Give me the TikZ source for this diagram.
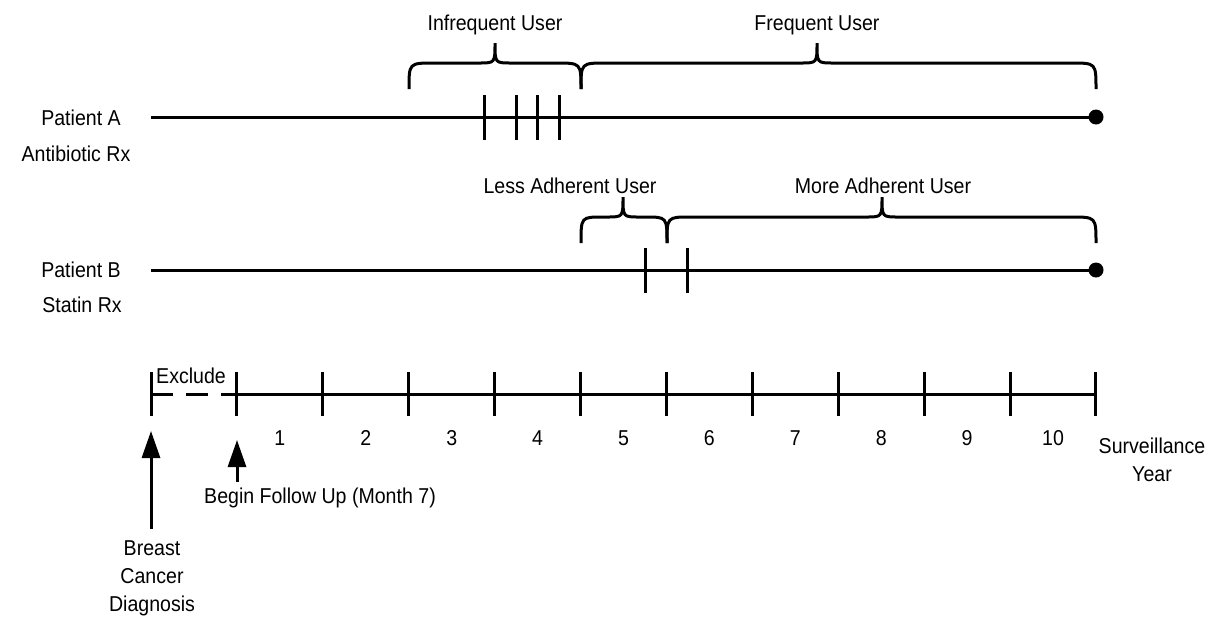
\documentclass[tikz,border=0pt]{standalone}
\usepackage{fontspec}
\setmainfont[FakeStretch=0.91]{Liberation Sans}
\usetikzlibrary{arrows.meta}
\begin{document}
\begin{tikzpicture}[x=1pt,y=-1pt,
  ln/.style={line width=3pt},
  lbl/.style={font=\fontsize{21.5}{28}\selectfont, inner sep=0pt, align=center},
  arr/.style={line width=3pt,-{Triangle[length=27pt,width=18pt]}},
  dotnode/.style={circle,fill=black,minimum size=15pt,inner sep=0pt}]
\useasboundingbox (0,0) rectangle (1223,619);
% patient labels
\node[lbl] (pa) at (81,118) {Patient A};
\node[lbl] (pax) at (76,154) {Antibiotic Rx};
\node[lbl] (pb) at (81,270) {Patient B};
\node[lbl] (pbx) at (82,305) {Statin Rx};
% patient A line
\coordinate (a0) at (151,117);
\node[dotnode] (adot) at (1096,117) {};
\draw[ln] (a0) -- (adot.center);
\foreach \x in {484,516,537,559} \draw[ln] (\x,95) -- (\x,140);
% patient B line
\coordinate (b0) at (151,270);
\node[dotnode] (bdot) at (1096,270) {};
\draw[ln] (b0) -- (bdot.center);
\foreach \x in {645,687} \draw[ln] (\x,248) -- (\x,293);
% braces A
\draw[ln] (409,89) .. controls (409,63) .. (434,63) -- (479,63) .. controls (495,63) .. (495,43)
  .. controls (495,63) .. (511,63) -- (556,63) .. controls (581,63) .. (581,89);
\draw[ln] (581,89) .. controls (581,63) .. (606,63) -- (801,63) .. controls (817,63) .. (817,43)
  .. controls (817,63) .. (833,63) -- (1071,63) .. controls (1096,63) .. (1096,89);
\node[lbl] (infr) at (495,25) {Infrequent User};
\node[lbl] (freq) at (817,25) {Frequent User};
% braces B
\draw[ln] (581,243) .. controls (581,217) .. (603,217) -- (607,217) .. controls (623,217) .. (623,197)
  .. controls (623,217) .. (639,217) -- (645,217) .. controls (667,217) .. (667,243);
\draw[ln] (667,243) .. controls (667,217) .. (690,217) -- (866,217) .. controls (882,217) .. (882,197)
  .. controls (882,217) .. (898,217) -- (1071,217) .. controls (1096,217) .. (1096,243);
\node[lbl] (less) at (570,186) {Less Adherent User};
\node[lbl] (more) at (883,186) {More Adherent User};
% axis
\coordinate (t0) at (151,394);
\coordinate (t1) at (237,394);
\coordinate (t11) at (1096,394);
\draw[ln,dash pattern=on 22pt off 13pt] (t0) -- (t1);
\draw[ln] (t1) -- (t11);
\foreach \i in {0,...,11} \draw[ln] (151+85.9*\i,372) -- (151+85.9*\i,416);
\node[lbl,anchor=west] (excl) at (156,376) {Exclude};
\foreach \i in {1,...,10} \node[lbl] (n\i) at (194+85.9*\i,438) {\i};
\node[lbl] (surv) at (1152,460) {Surveillance\\Year};
% arrows
\coordinate (bcbase) at (151,529);
\coordinate (bctip) at (151,431);
\draw[arr] (bcbase) -- (bctip);
\node[lbl] (bc) at (152,578) {Breast\\Cancer\\Diagnosis};
\coordinate (bfbase) at (237,482);
\coordinate (bftip) at (237,440);
\draw[arr] (bfbase) -- (bftip);
\node[lbl,anchor=west] (bf) at (204,498) {Begin Follow Up (Month 7)};
\end{tikzpicture}
\end{document}
